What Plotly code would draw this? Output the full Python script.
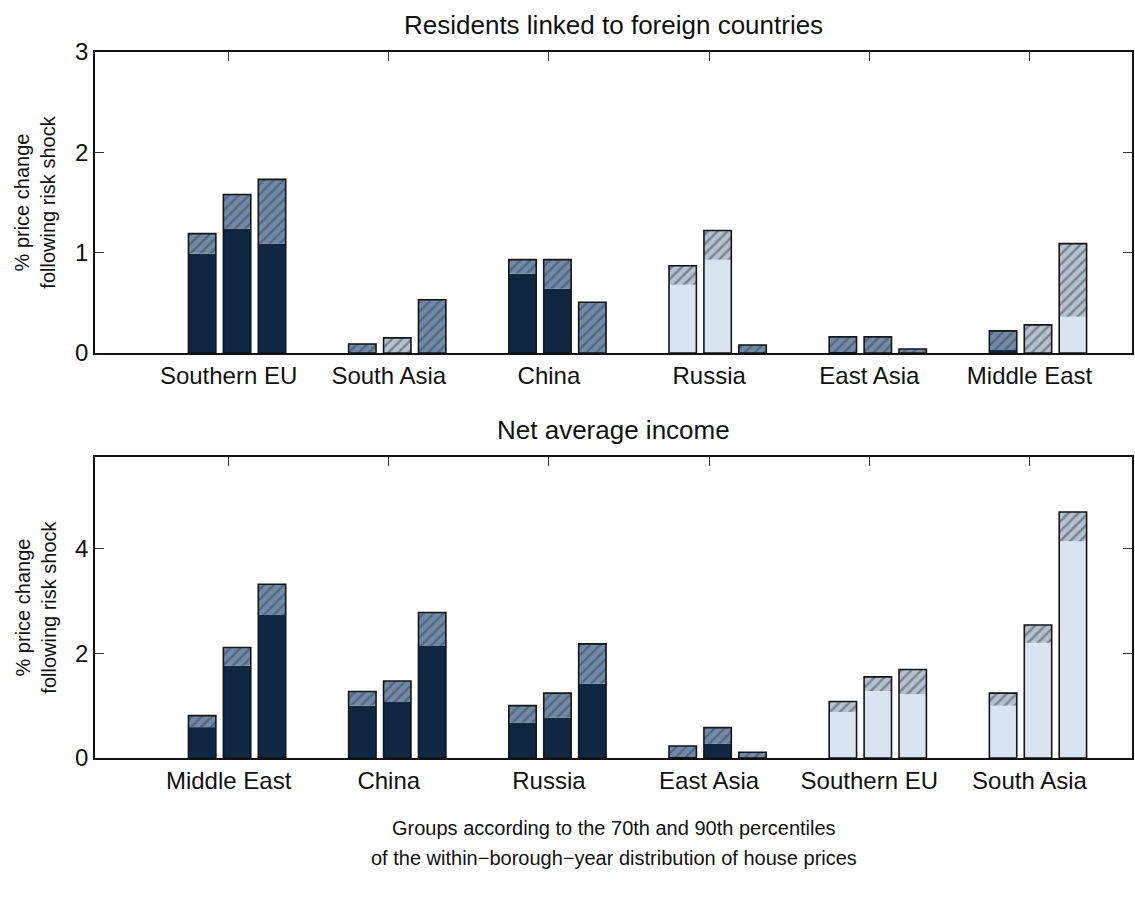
import plotly.graph_objects as go

# ---------------- data ----------------
# Three price groups per region: below p70, p70-p90, above p90.
# "total" = full bar height, "base" = solid lower part, the rest is hatched.
# "sig" = True -> dark shading, False -> light shading.

top_title = "Residents linked to foreign countries"
top_categories = ["Southern EU", "South Asia", "China", "Russia", "East Asia", "Middle East"]
top_low_total = [1.19, 0.09, 0.93, 0.87, 0.16, 0.22]
top_low_base = [0.99, 0.00, 0.79, 0.68, 0.01, 0.03]
top_mid_total = [1.58, 0.15, 0.93, 1.22, 0.16, 0.28]
top_mid_base = [1.24, 0.00, 0.64, 0.93, 0.00, 0.00]
top_high_total = [1.73, 0.53, 0.505, 0.08, 0.04, 1.09]
top_high_base = [1.09, 0.00, 0.00, 0.00, 0.00, 0.36]
top_low_sig = [True, True, True, False, True, True]
top_mid_sig = [True, False, True, False, True, False]
top_high_sig = [True, True, True, True, True, False]

bottom_title = "Net average income"
bottom_categories = ["Middle East", "China", "Russia", "East Asia", "Southern EU", "South Asia"]
bottom_low_total = [0.81, 1.27, 1.00, 0.23, 1.08, 1.24]
bottom_low_base = [0.59, 1.00, 0.68, 0.02, 0.88, 1.00]
bottom_mid_total = [2.11, 1.47, 1.24, 0.58, 1.55, 2.54]
bottom_mid_base = [1.76, 1.07, 0.77, 0.27, 1.28, 2.20]
bottom_high_total = [3.32, 2.78, 2.18, 0.11, 1.69, 4.70]
bottom_high_base = [2.73, 2.14, 1.42, 0.00, 1.22, 4.14]
bottom_low_sig = [True, True, True, True, False, False]
bottom_mid_sig = [True, True, True, True, False, False]
bottom_high_sig = [True, True, True, True, False, False]

y_title = "% price change<br>following risk shock"
x_title_lines = ["Groups according to the 70th and 90th percentiles",
                 "of the within\u2212borough\u2212year distribution of house prices"]

# ---------------- styling ----------------
FONT = "Liberation Sans, Arial, Helvetica, sans-serif"
DARK = "#0f2741"
DARK_HATCH_BG = "#6f8bab"
DARK_HATCH_FG = "#34526f"
LIGHT = "#d8e4ef"
LIGHT_HATCH_BG = "#b3c2d1"
LIGHT_HATCH_FG = "#d6e1ec"

BAR_W = 0.171
SHIFTS = [-0.165, 0.053, 0.271]
X_RANGE = [0.166, 6.64]

fig = go.Figure()


def add_panel(xa, ya, n, totals, bases, sigs):
    xs = list(range(1, n + 1))
    for shift, tot, base, sig in zip(SHIFTS, totals, bases, sigs):
        off = shift - BAR_W / 2
        # solid lower part
        fig.add_trace(go.Bar(
            x=xs, y=base, base=[0] * n, width=BAR_W, offset=off,
            marker=dict(color=[DARK if s else LIGHT for s in sig], line=dict(width=0)),
            xaxis=xa, yaxis=ya, hoverinfo="skip"))
        # hatched upper part
        fig.add_trace(go.Bar(
            x=xs, y=[t - b for t, b in zip(tot, base)], base=base,
            width=BAR_W, offset=off,
            marker=dict(
                color=[DARK_HATCH_BG if s else LIGHT_HATCH_BG for s in sig],
                line=dict(width=0),
                pattern=dict(
                    shape="/", size=7, solidity=0.35, fillmode="overlay",
                    fgcolor=[DARK_HATCH_FG if s else LIGHT_HATCH_FG for s in sig])),
            xaxis=xa, yaxis=ya, hoverinfo="skip"))
        # black outline of the whole bar
        fig.add_trace(go.Bar(
            x=xs, y=tot, base=[0] * n, width=BAR_W, offset=off,
            marker=dict(color="rgba(0,0,0,0)", line=dict(width=1.6, color="#151515")),
            xaxis=xa, yaxis=ya, hoverinfo="skip"))


add_panel("x", "y", len(top_categories),
          [top_low_total, top_mid_total, top_high_total],
          [top_low_base, top_mid_base, top_high_base],
          [top_low_sig, top_mid_sig, top_high_sig])
add_panel("x2", "y2", len(bottom_categories),
          [bottom_low_total, bottom_mid_total, bottom_high_total],
          [bottom_low_base, bottom_mid_base, bottom_high_base],
          [bottom_low_sig, bottom_mid_sig, bottom_high_sig])

axis_common = dict(
    showline=True, linewidth=1.5, linecolor="#111111", mirror="ticks",
    ticks="inside", ticklen=9, tickwidth=1, tickcolor="#333333",
    showgrid=False, zeroline=False, layer="below traces",
    tickfont=dict(family=FONT, size=24, color="#111111"),
)

TOP_DOMAIN = [0.5737, 1.0]
BOTTOM_DOMAIN = [0.0, 0.4263]

fig.update_layout(
    width=1135, height=898,
    margin=dict(l=95, r=1, t=52, b=140),
    paper_bgcolor="white", plot_bgcolor="white",
    barmode="overlay", showlegend=False,
    font=dict(family=FONT, color="#111111"),
    xaxis=dict(axis_common, domain=[0, 1], anchor="y", range=X_RANGE,
               tickvals=list(range(1, 7)), ticktext=top_categories),
    yaxis=dict(axis_common, domain=TOP_DOMAIN, anchor="x", range=[0, 3],
               tickvals=[0, 1, 2, 3]),
    xaxis2=dict(axis_common, domain=[0, 1], anchor="y2", range=X_RANGE,
                tickvals=list(range(1, 7)), ticktext=bottom_categories),
    yaxis2=dict(axis_common, domain=BOTTOM_DOMAIN, anchor="x2", range=[0, 5.75],
                tickvals=[0, 2, 4]),
)

annotations = [
    dict(text=top_title, x=0.5, y=TOP_DOMAIN[1], xref="paper", yref="paper",
         xanchor="center", yanchor="bottom", yshift=10, showarrow=False,
         font=dict(family=FONT, size=26)),
    dict(text=bottom_title, x=0.5, y=BOTTOM_DOMAIN[1], xref="paper", yref="paper",
         xanchor="center", yanchor="bottom", yshift=10, showarrow=False,
         font=dict(family=FONT, size=26)),
]
for dom in (TOP_DOMAIN, BOTTOM_DOMAIN):
    annotations.append(dict(
        text=y_title, x=-0.0577, y=(dom[0] + dom[1]) / 2, xref="paper", yref="paper",
        xanchor="center", yanchor="middle", textangle=-90, showarrow=False,
        font=dict(family=FONT, size=20)))
for i, line in enumerate(x_title_lines):
    annotations.append(dict(
        text=line, x=0.5, y=-0.0992 - i * 0.0425, xref="paper", yref="paper",
        xanchor="center", yanchor="middle", showarrow=False,
        font=dict(family=FONT, size=20)))
fig.update_layout(annotations=annotations)

fig.write_html("out.html")
